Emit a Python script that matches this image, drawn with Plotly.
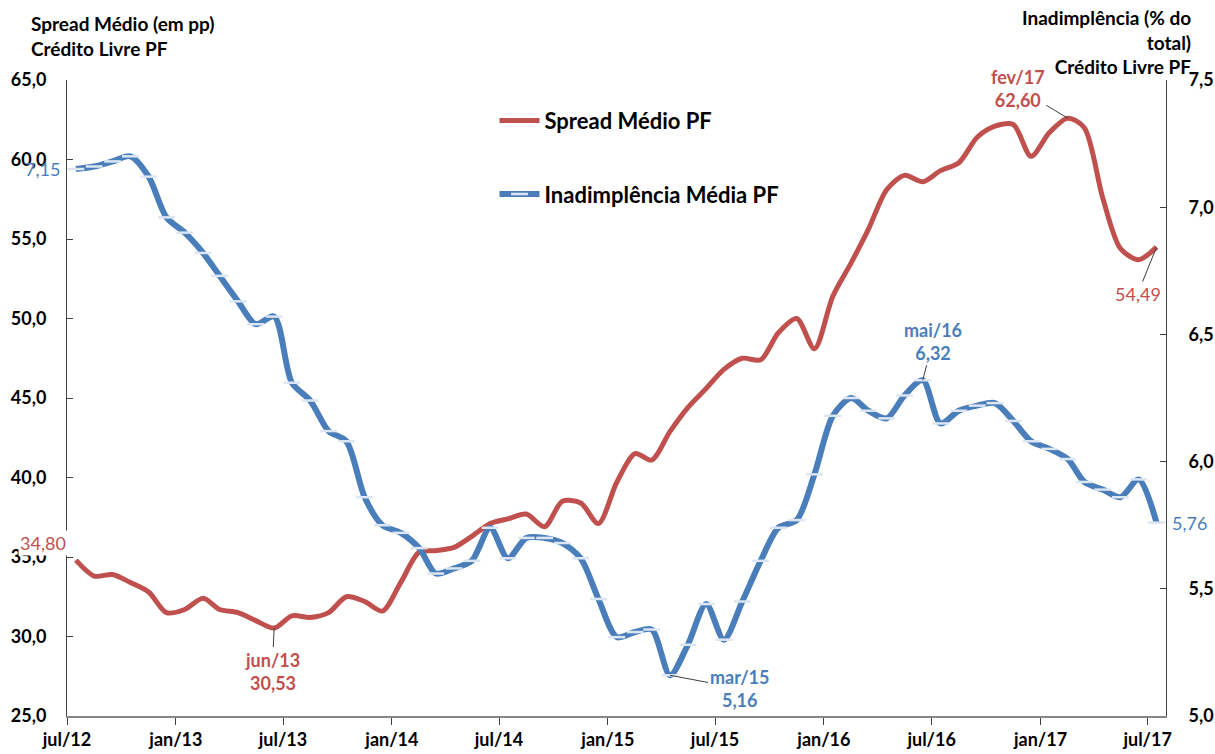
import pandas as pd
import plotly.graph_objects as go

# monthly data jul/12 .. jul/17 (points sit mid-month, like the Excel date axis)
months = pd.date_range("2012-07-01", periods=61, freq="MS") + pd.Timedelta(days=15)

spread = [34.80, 33.8, 33.9, 33.4, 32.8, 31.5, 31.7, 32.4, 31.7, 31.5,
          31.0, 30.53, 31.3, 31.2, 31.5, 32.5, 32.2, 31.6, 33.4, 35.3,
          35.4, 35.6, 36.3, 37.1, 37.4, 37.7, 36.9, 38.5, 38.4, 37.1,
          39.7, 41.5, 41.1, 42.9, 44.4, 45.6, 46.8, 47.5, 47.4, 49.1,
          50.0, 48.1, 51.4, 53.5, 55.6, 58.1, 59.0, 58.6, 59.3, 59.8,
          61.4, 62.1, 62.2, 60.2, 61.7, 62.60, 62.0, 57.6, 54.4, 53.7,
          54.49]

inadimplencia = [7.15, 7.16, 7.18, 7.20, 7.12, 6.96, 6.90, 6.82, 6.73, 6.63,
                 6.54, 6.57, 6.31, 6.24, 6.12, 6.08, 5.86, 5.75, 5.72, 5.66,
                 5.56, 5.58, 5.61, 5.74, 5.62, 5.70, 5.70, 5.68, 5.62, 5.46,
                 5.31, 5.33, 5.34, 5.16, 5.28, 5.44, 5.30, 5.45, 5.61, 5.74,
                 5.77, 5.95, 6.18, 6.25, 6.20, 6.17, 6.26, 6.32, 6.15, 6.20,
                 6.22, 6.23, 6.16, 6.08, 6.05, 6.01, 5.92, 5.89, 5.86, 5.93,
                 5.76]

tick_dates = pd.date_range("2012-07-01", "2017-07-01", freq="6MS")
tick_labels = ["jul/12", "jan/13", "jul/13", "jan/14", "jul/14", "jan/15",
               "jul/15", "jan/16", "jul/16", "jan/17", "jul/17"]

RED = "#C0504D"
BLUE = "#4A7EBB"
AXIS = "#868686"
FONT = "Lato"

fig = go.Figure()
fig.add_trace(go.Scatter(
    x=months, y=spread, name="Spread Médio PF", mode="lines",
    line=dict(color=RED, width=5, shape="spline", smoothing=0.8),
    legendgroup="a"))
fig.add_trace(go.Scatter(
    x=months, y=inadimplencia, name="Inadimplência Média PF", yaxis="y2",
    mode="lines+markers",
    line=dict(color=BLUE, width=6, shape="spline", smoothing=0.8),
    marker=dict(symbol="line-ew", size=12, color=BLUE,
                line=dict(width=2.5, color="#dce6f2")),
    legendgroup="b"))

bold = dict(family=FONT, size=18, color="black", weight="bold")


def callout(i, series, text, color, ax, ay, yref="y", weight="bold", bg=None):
    return dict(x=months[i], y=series[i], xref="x", yref=yref, text=text,
                showarrow=True, arrowhead=0, arrowwidth=1, arrowcolor="#404040",
                ax=ax, ay=ay, standoff=0, bgcolor=bg,
                font=dict(family=FONT, size=18, color=color, weight=weight))


annotations = [
    callout(11, spread, "jun/13<br>30,53", RED, -2, 43),
    callout(55, spread, "fev/17<br>62,60", RED, -50, -30),
    callout(60, spread, "54,49", RED, -19, 47, weight="normal", bg="white"),
    callout(33, inadimplencia, "mar/15<br>5,16", BLUE, 69, 13, yref="y2"),
    callout(47, inadimplencia, "mai/16<br>6,32", BLUE, 10, -39, yref="y2"),
    dict(x=months[0], y=spread[0], xref="x", yref="y", text="34,80",
         showarrow=False, xanchor="right", xshift=-8, yshift=17,
         bgcolor="white",
         font=dict(family=FONT, size=18, color=RED)),
    dict(x=months[0], y=inadimplencia[0], xref="x", yref="y2", text="7,15",
         showarrow=False, xanchor="right", xshift=-14,
         font=dict(family=FONT, size=18, color=BLUE)),
    dict(x=months[60], y=inadimplencia[60], xref="x", yref="y2", text="5,76",
         showarrow=False, xanchor="left", xshift=13,
         font=dict(family=FONT, size=18, color=BLUE)),
    dict(x=-0.035, y=1.11, xref="paper", yref="paper", xanchor="left",
         yanchor="top", align="left", showarrow=False,
         text="Spread Médio (em pp)<br>Crédito Livre PF",
         font=dict(family=FONT, size=19, color="black", weight="bold")),
    dict(x=1.025, y=1.12, xref="paper", yref="paper", xanchor="right",
         yanchor="top", align="right", showarrow=False,
         text="Inadimplência (% do<br>total)<br>Crédito Livre PF",
         font=dict(family=FONT, size=19, color="black", weight="bold")),
]

fig.update_layout(
    width=1215, height=754,
    margin=dict(l=67, r=49, t=80, b=38),
    paper_bgcolor="white", plot_bgcolor="white",
    separators=",.",
    font=dict(family=FONT),
    xaxis=dict(type="date", range=["2012-07-01", "2017-08-01"],
               tickvals=tick_dates, ticktext=tick_labels,
               showline=True, linecolor=AXIS, linewidth=1.5,
               ticks="outside", ticklen=7, tickcolor="#404040",
               showgrid=False, zeroline=False, tickfont=bold,
               automargin=False),
    yaxis=dict(range=[25, 65], dtick=5, tickformat=".1f",
               showline=True, linecolor="#404040", linewidth=1,
               ticks="inside", ticklen=6, tickcolor="#404040",
               showgrid=False, zeroline=False, tickfont=bold,
               ticklabelstandoff=16, automargin=False),
    yaxis2=dict(range=[5, 7.5], dtick=0.5, tickformat=".1f",
                overlaying="y", side="right",
                showline=True, linecolor="#404040", linewidth=1,
                ticks="inside", ticklen=6, tickcolor="#404040",
                showgrid=False, zeroline=False, tickfont=bold,
                ticklabelstandoff=18, automargin=False),
    legend=dict(x=0.389, y=0.969, xanchor="left", yanchor="top",
                bgcolor="rgba(0,0,0,0)", tracegroupgap=42, itemwidth=40,
                font=dict(family=FONT, size=22, color="black", weight="bold")),
    annotations=annotations,
)

# drop the default 8px body margin so the figure fills the window exactly
fig.write_html("out.html", config={"displayModeBar": False},
               post_script="document.body.style.margin = '0px';")
